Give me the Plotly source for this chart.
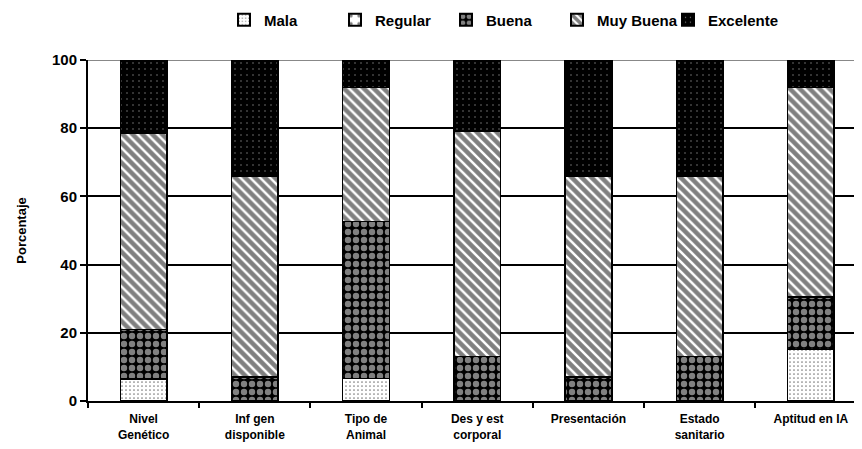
import plotly.graph_objects as go

categories = ["Nivel<br>Genético", "Inf gen<br>disponible", "Tipo de<br>Animal",
              "Des y est<br>corporal", "Presentación", "Estado<br>sanitario", "Aptitud en IA"]
mala = [6.4, 0, 6.6, 0, 0, 0, 15.1]
regular = [0, 0, 0, 0, 0, 0, 0]
buena = [14.5, 7.0, 46.0, 13.0, 7.0, 13.0, 15.4]
muy_buena = [57.5, 58.8, 39.4, 66.1, 58.8, 52.8, 61.4]
excelente = [21.6, 34.2, 8.0, 20.9, 34.2, 34.2, 8.1]
y_ticks = [0, 20, 40, 60, 80, 100]

series = [
    ("Mala", mala, dict(shape=".", fgcolor="black", bgcolor="white", size=4, solidity=0.15)),
    ("Regular", regular, dict(shape=".", fgcolor="black", bgcolor="white", size=10, solidity=0.15)),
    ("Buena", buena, dict(shape=".", fgcolor="white", bgcolor="black", size=8, solidity=0.5)),
    ("Muy Buena", muy_buena, dict(shape="\\", fgcolor="black", bgcolor="white", size=7, solidity=0.65)),
    ("Excelente", excelente, dict(shape=".", fgcolor="white", bgcolor="black", size=6, solidity=0.05)),
]

fig = go.Figure()
for name, vals, pat in series:
    fig.add_trace(go.Bar(
        name=name, x=categories, y=vals, width=0.42,
        marker=dict(color=pat["bgcolor"], pattern=pat, line=dict(color="black", width=1.5)),
    ))

# page body adds an 8px offset, so the figure is sized to fit the window after it
W, H = 854, 441
fig.update_layout(
    barmode="stack",
    width=W, height=H,
    margin=dict(l=80, r=0, t=52, b=48, autoexpand=False),
    paper_bgcolor="white", plot_bgcolor="white",
    font=dict(family="Liberation Sans, Arial", color="black", size=14, weight="bold"),
    showlegend=True,
    legend=dict(orientation="h", x=(237 - 8 - 13) / W, xanchor="left", xref="container",
                y=1 - 12 / H, yanchor="middle", yref="container",
                font=dict(size=15, weight="bold"),
                itemwidth=30, traceorder="normal", entrywidth=66, itemsizing="constant"),
    xaxis=dict(range=[-0.5, 6.46], showline=True, linecolor="black", linewidth=2,
               ticks="outside", tickson="boundaries", ticklen=5, tickcolor="black", tickwidth=2,
               tickfont=dict(size=12, weight="bold"), showgrid=False, ticklabelstandoff=6),
    yaxis=dict(range=[0, 100], tickvals=y_ticks, showline=True, linecolor="black", linewidth=2,
               ticks="outside", ticklen=6, tickcolor="black", tickwidth=2,
               showgrid=True, gridcolor="black", gridwidth=1.5, zeroline=False,
               tickfont=dict(size=15, weight="bold"),
               title=dict(text="Porcentaje", font=dict(size=13, weight="bold"), standoff=22)),
)
fig.add_shape(type="line", xref="paper", yref="y", x0=0, x1=1, y0=100, y1=100,
              line=dict(color="#888888", width=2), layer="below")

fig.write_html("out.html")
